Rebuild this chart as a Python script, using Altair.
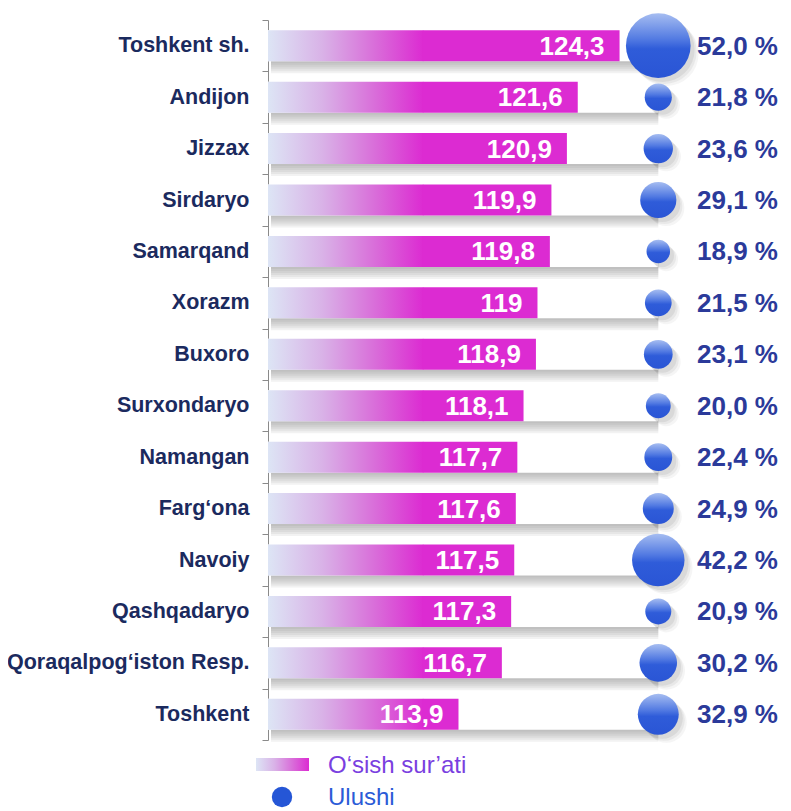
import math
import altair as alt
import pandas as pd

regions = ["Toshkent sh.", "Andijon", "Jizzax", "Sirdaryo", "Samarqand", "Xorazm",
           "Buxoro", "Surxondaryo", "Namangan", "Farg‘ona", "Navoiy", "Qashqadaryo",
           "Qoraqalpog‘iston Resp.", "Toshkent"]
growth = [124.3, 121.6, 120.9, 119.9, 119.8, 119.0, 118.9, 118.1, 117.7, 117.6,
          117.5, 117.3, 116.7, 113.9]
share = [52.0, 21.8, 23.6, 29.1, 18.9, 21.5, 23.1, 20.0, 22.4, 24.9, 42.2, 20.9,
         30.2, 32.9]
legend_labels = ["O‘sish sur’ati", "Ulushi"]

df = pd.DataFrame({"region": regions, "growth": growth, "share": share})

FONT = "Liberation Sans"
W, H = 429, 720
X0, X1 = 101.6, 129.3
G_END = 111.6      # where the bar gradient turns solid
BG_END = 126.8     # white track end / bubble column
BAR_H = 31
MAGENTA = "#dc2bd2"

xs = alt.Scale(domain=[X0, X1], zero=False, nice=False)
ys = alt.Scale(paddingInner=0, paddingOuter=0)

bar_grad = alt.Gradient(
    gradient="linear", x1=0, y1=0, x2=1, y2=0,
    stops=[alt.GradientStop(offset=0, color="#dde5f5"),
           alt.GradientStop(offset=0.35, color="#d9b2e7"),
           alt.GradientStop(offset=0.7, color="#d96bd9"),
           alt.GradientStop(offset=1, color=MAGENTA)])
bubble_grad = alt.Gradient(
    gradient="linear", x1=0, y1=0, x2=0, y2=1,
    stops=[alt.GradientStop(offset=0, color="#a6bdf1"),
           alt.GradientStop(offset=0.4, color="#527ae2"),
           alt.GradientStop(offset=0.55, color="#2f5cd9"),
           alt.GradientStop(offset=1, color="#2a55d5")])

base = alt.Chart(df).transform_calculate(
    vlab="replace(toString(datum.growth), '.', ',')",
    slab="replace(format(datum.share, '.1f'), '.', ',') + ' %'",
    x0=f"{X0}", gend=f"{G_END}", gend2=f"{G_END + 0.03}", bgend=f"{BG_END}", x1=f"{X1}",
)
Y = alt.Y("region:N", sort=regions, scale=ys, title=None,
          axis=alt.Axis(domainColor="#8a8a8a", tickColor="#8a8a8a", tickSize=6,
                        tickBand="extent", labelFont=FONT, labelFontSize=21.5,
                        labelFontWeight="bold", labelColor="#1b2a5e",
                        labelLimit=320, labelPadding=13, domainWidth=1))


def X(field):
    return alt.X(field, type="quantitative", scale=xs, axis=None)


layers = []
# soft shadow under the white tracks
for off in [2, 4, 6, 8, 10, 12]:
    layers.append(base.mark_bar(color="#808080", opacity=0.1, height=BAR_H,
                                yOffset=off, xOffset=3).encode(
        x=X("x0"), x2="bgend:Q", y=Y))
layers.append(base.mark_bar(color="white", height=BAR_H).encode(
    x=X("x0"), x2="bgend:Q", y=Y))
layers.append(base.mark_bar(fill=bar_grad, height=BAR_H).encode(
    x=X("x0"), x2="gend2:Q", y=Y))
layers.append(base.mark_bar(color=MAGENTA, height=BAR_H).encode(
    x=X("gend"), x2="growth:Q", y=Y))
layers.append(base.mark_text(align="right", baseline="middle", dx=-15, dy=1,
                             font=FONT, fontSize=26, fontWeight="bold",
                             color="white").encode(
    x=X("growth"), y=Y, text="vlab:N"))

size_scale = alt.Scale(type="pow", exponent=2, domain=[0, 52],
                       range=[0, math.pi / 4 * 73 ** 2])
for off, op in [(8, 0.06), (6, 0.08), (4, 0.1)]:
    layers.append(base.mark_circle(color="#555555", opacity=op, xOffset=off,
                                   yOffset=off).encode(
        x=X("bgend"), y=Y,
        size=alt.Size("share:Q", scale=size_scale, legend=None)))
layers.append(base.mark_circle(fill=bubble_grad, opacity=1, strokeWidth=0).encode(
    x=X("bgend"), y=Y,
    size=alt.Size("share:Q", scale=size_scale, legend=None)))
layers.append(base.mark_text(align="left", baseline="middle", dy=1, font=FONT,
                             fontSize=26, fontWeight="bold",
                             color="#2b3a9a").encode(
    x=X("x1"), y=Y, text="slab:N"))

# manual legend below the plot
leg1 = pd.DataFrame({"t": [legend_labels[0]]})
leg2 = pd.DataFrame({"t": [legend_labels[1]]})
layers.append(alt.Chart(leg1).mark_rect(fill=bar_grad).encode(
    x=alt.value(-12), x2=alt.value(41), y=alt.value(738), y2=alt.value(751)))
layers.append(alt.Chart(leg1).mark_text(align="left", baseline="middle", font=FONT,
                                        fontSize=24, color="#7a3fe0").encode(
    x=alt.value(60), y=alt.value(746), text="t:N"))
layers.append(alt.Chart(leg2).mark_circle(color="#2556d6", opacity=1, size=415).encode(
    x=alt.value(14), y=alt.value(777)))
layers.append(alt.Chart(leg2).mark_text(align="left", baseline="middle", font=FONT,
                                        fontSize=24, color="#2b5bd7").encode(
    x=alt.value(60), y=alt.value(778), text="t:N"))

chart = alt.layer(*layers).properties(
    width=W, height=H,
    autosize=alt.AutoSizeParams(type="none"),
    padding={"left": 260, "top": 12, "right": 86, "bottom": 70},
    background="white",
).configure_view(strokeWidth=0)

chart.save("out.html", embed_options={"renderer": "svg", "actions": False})
